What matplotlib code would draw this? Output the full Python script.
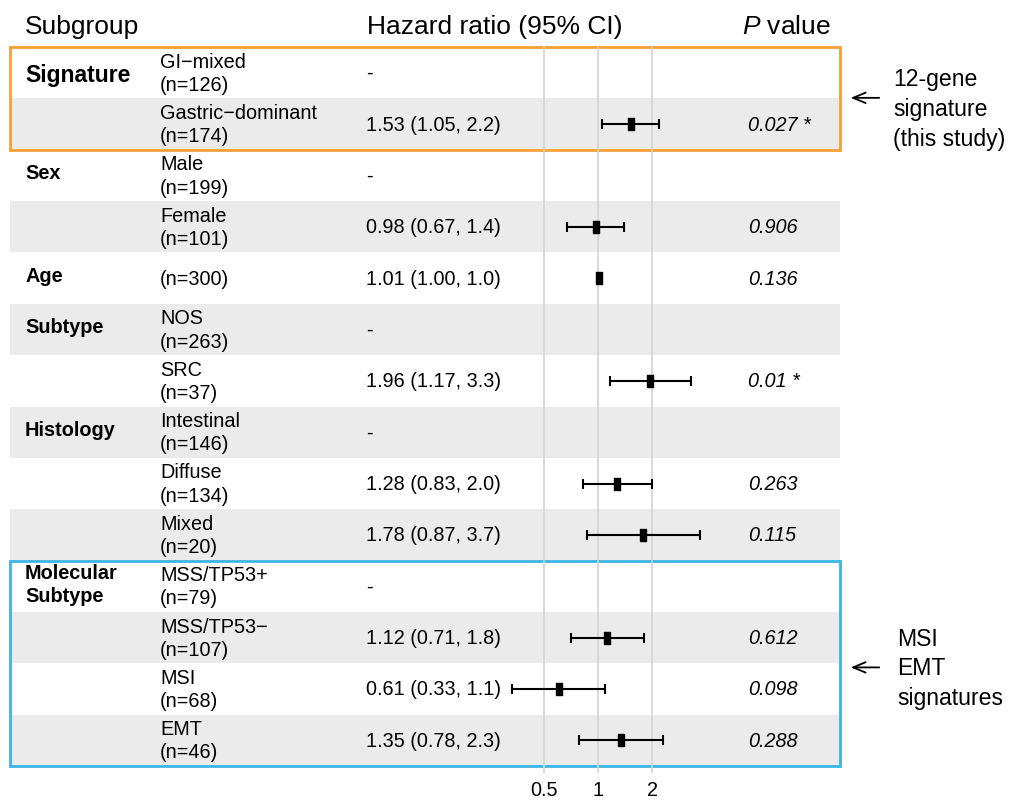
import numpy as np
import matplotlib
matplotlib.use("Agg")
import matplotlib.pyplot as plt

plt.rcParams['font.family'] = ['Liberation Sans', 'DejaVu Sans']
plt.rcParams['mathtext.fontset'] = 'custom'
plt.rcParams['mathtext.it'] = 'Liberation Sans:italic'
plt.rcParams['mathtext.rm'] = 'Liberation Sans'

# table data
groups = ["Signature", "", "Sex", "", "Age", "Subtype", "", "Histology", "", "",
          "Molecular\nSubtype", "", "", ""]
subgroups = ["GI\u2212mixed", "Gastric\u2212dominant", "Male", "Female", "", "NOS", "SRC",
             "Intestinal", "Diffuse", "Mixed", "MSS/TP53+", "MSS/TP53\u2212", "MSI", "EMT"]
n_pat = [126, 174, 199, 101, 300, 263, 37, 146, 134, 20, 79, 107, 68, 46]
hr = [np.nan, 1.53, np.nan, 0.98, 1.01, np.nan, 1.96, np.nan, 1.28, 1.78, np.nan, 1.12, 0.61, 1.35]
ci_lo = [np.nan, 1.05, np.nan, 0.67, 1.00, np.nan, 1.17, np.nan, 0.83, 0.87, np.nan, 0.71, 0.33, 0.78]
ci_hi = [np.nan, 2.2, np.nan, 1.4, 1.02, np.nan, 3.3, np.nan, 2.0, 3.7, np.nan, 1.8, 1.1, 2.3]
hr_text = ["-", "1.53 (1.05, 2.2)", "-", "0.98 (0.67, 1.4)", "1.01 (1.00, 1.0)", "-",
           "1.96 (1.17, 3.3)", "-", "1.28 (0.83, 2.0)", "1.78 (0.87, 3.7)", "-",
           "1.12 (0.71, 1.8)", "0.61 (0.33, 1.1)", "1.35 (0.78, 2.3)"]
p_text = ["", "0.027 *", "", "0.906", "0.136", "", "0.01 *", "", "0.263", "0.115", "",
          "0.612", "0.098", "0.288"]
ticks = [0.5, 1, 2]

W, H = 1010, 801
fig = plt.figure(figsize=(W / 100, H / 100), dpi=100)
top, bot = 47, 766
nrow = len(subgroups)
rowh = (bot - top) / nrow

# table axes: x in pixels, y in rows
ax = fig.add_axes([10 / W, (H - bot) / H, 830 / W, (bot - top) / H])
ax.set_xlim(10, 840)
ax.set_ylim(nrow - 0.5, -0.5)
ax.axis('off')

for i in range(nrow):
    if i % 2 == 1:
        ax.axhspan(i - 0.5, i + 0.5, color='#ebebeb', lw=0, zorder=0)

fs = 14.3
for i in range(nrow):
    yc = i + 0.02
    if groups[i]:
        if i == 0:
            ax.text(25, i + 0.05, groups[i], fontsize=16.5, fontweight='bold', va='center')
        else:
            ax.text(25, i - 0.03, groups[i], fontsize=fs, fontweight='bold', va='center',
                    linespacing=1.28)
    sub = "(n=%d)" % n_pat[i]
    if subgroups[i]:
        sub = subgroups[i] + "\n" + sub
    ax.text(160, yc, sub, fontsize=fs, va='center', linespacing=1.28)
    ax.text(366, yc, hr_text[i], fontsize=fs, va='center')
    if p_text[i]:
        ax.text(748, yc, p_text[i], fontsize=fs, va='center', style='italic')

# headers
hy = (27 - top) / rowh - 0.5
ax.text(25, hy, "Subgroup", fontsize=19, va='center', clip_on=False)
ax.text(367, hy, "Hazard ratio (95% CI)", fontsize=19, va='center', clip_on=False)
ax.text(742, hy, "$P$ value", fontsize=19, va='center', clip_on=False)

# highlight boxes
ax.add_patch(plt.Rectangle((10, -0.5), 830, 2, fill=False, ec='#f7a035', lw=2,
                           zorder=5, clip_on=False))
ax.add_patch(plt.Rectangle((10, 9.5), 830, 4, fill=False, ec='#3db4e6', lw=2,
                           zorder=5, clip_on=False))

# side annotations
arr = dict(arrowstyle='->,head_length=0.6,head_width=0.25', mutation_scale=15,
           color='black', lw=1.3)
ax.annotate("", xy=(848, 0.49), xytext=(882, 0.49), arrowprops=arr,
            annotation_clip=False)
ax.text(893, 0.72, "12-gene\nsignature\n(this study)", fontsize=16.6, va='center',
        linespacing=1.38, clip_on=False)
ax.annotate("", xy=(848, 11.58), xytext=(882, 11.58), arrowprops=arr,
            annotation_clip=False)
ax.text(897, 11.61, "MSI\nEMT\nsignatures", fontsize=16.6, va='center',
        linespacing=1.38, clip_on=False)

# forest axes
px0, px1 = 492, 760
fx = fig.add_axes([px0 / W, (H - bot) / H, (px1 - px0) / W, (bot - top) / H])
fx.patch.set_alpha(0)
fx.set_xscale('log')
fx.set_xlim(0.2565, 8)
fx.set_ylim(nrow - 0.5, -0.5)
for s in fx.spines.values():
    s.set_visible(False)
for t in ticks:
    fx.axvline(t, color='#d3d3d3', lw=1.2, zorder=1)
fx.set_xticks(ticks)
fx.set_xticklabels(["0.5", "1", "2"])
fx.minorticks_off()
fx.set_yticks([])
fx.tick_params(axis='x', length=5, width=1.2, color='#d3d3d3', labelsize=14.3, pad=6)

hr_a = np.array(hr)
lo_a = np.array(ci_lo)
hi_a = np.array(ci_hi)
rows = np.arange(nrow)
ok = ~np.isnan(hr_a)
rect = [(-1, -2.2), (1, -2.2), (1, 2.2), (-1, 2.2), (-1, -2.2)]
fx.errorbar(hr_a[ok], rows[ok], xerr=[hr_a[ok] - lo_a[ok], hi_a[ok] - hr_a[ok]],
            fmt='none', ecolor='black', elinewidth=1.5, capsize=3.5, capthick=1.5, zorder=3)
fx.plot(hr_a[ok], rows[ok], ls='none', marker=rect, markersize=8, color='black', zorder=4)

fig.savefig("out.png", dpi=100)
